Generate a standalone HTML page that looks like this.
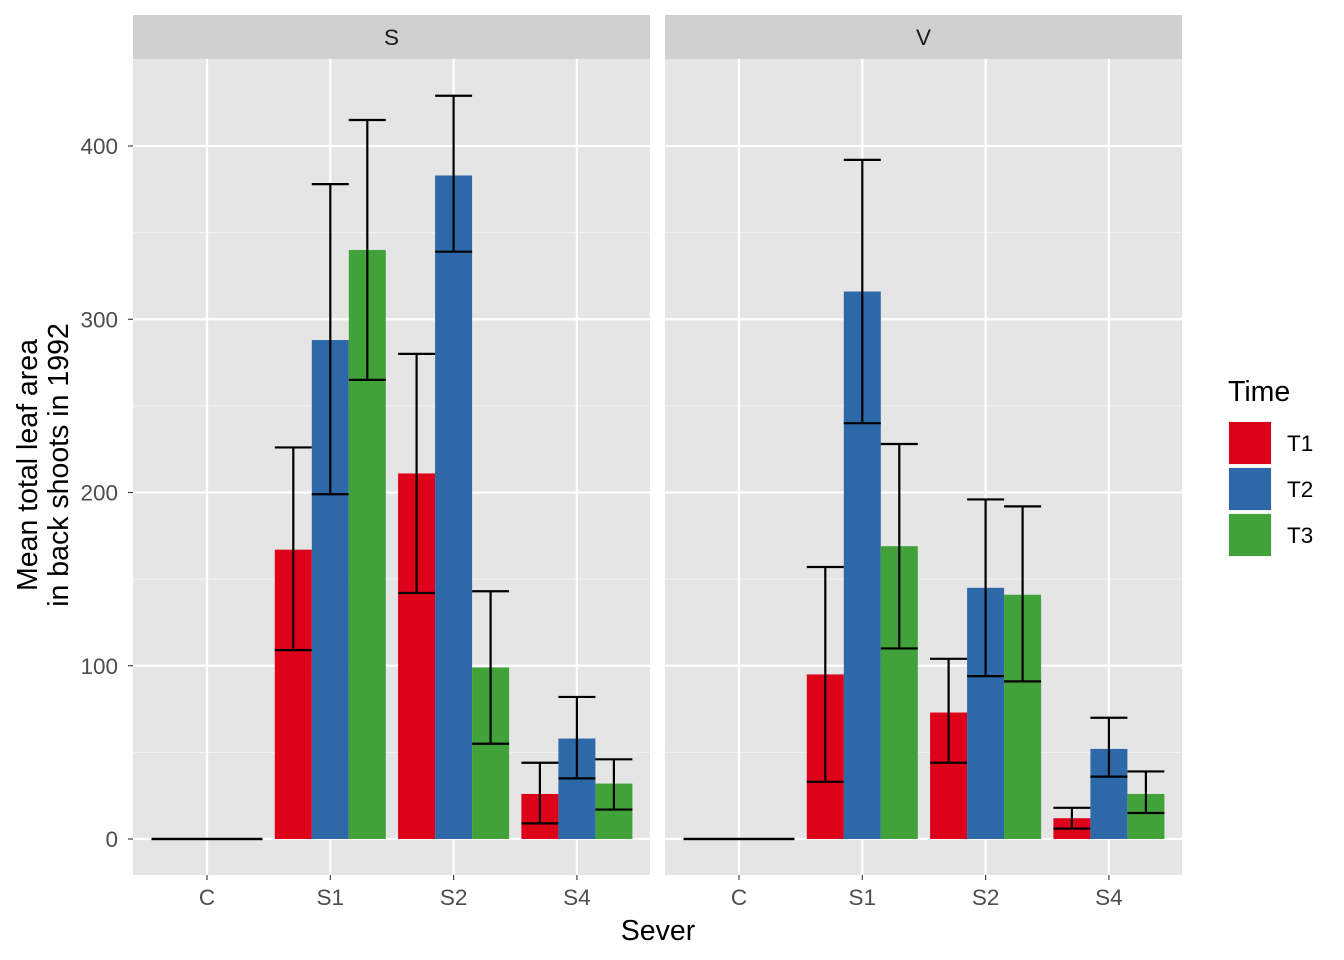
<!DOCTYPE html>
<html><head><meta charset="utf-8"><style>
body{margin:0;background:#fff}
svg{display:block;font-family:"Liberation Sans",Arial,sans-serif}
</style></head><body>
<svg id="c" width="1344" height="960"></svg>
<script>
const panels=["S","V"];
const categories=["C","S1","S2","S4"];
const series=["T1","T2","T3"];
const colors=["#de011a","#2d69a9","#41a23a"];
const meansS=[[0,0,0],[167,288,340],[211,383,99],[26,58,32]];
const meansV=[[0,0,0],[95,316,169],[73,145,141],[12,52,26]];
const lowS=[[0,0,0],[109,199,265],[142,339,55],[9,35,17]];
const highS=[[0,0,0],[226,378,415],[280,429,143],[44,82,46]];
const lowV=[[0,0,0],[33,240,110],[44,94,91],[6,36,15]];
const highV=[[0,0,0],[157,392,228],[104,196,192],[18,70,39]];
const yTicks=[0,100,200,300,400];
const yMinor=[50,150,250,350];

const NS="http://www.w3.org/2000/svg";
const svgEl=document.getElementById("c");
function mk(t,a,p){const e=document.createElementNS(NS,t);for(const k in a)e.setAttribute(k,a[k]);(p||svgEl).appendChild(e);return e;}
const panelX=[133,665],panelW=517,plotTop=59,plotBottom=875;
const yScale=v=>839-v*1.7325;
function xCat(p,i){return panelX[p]+74+i*123.3;}
const bw=37;
const allMeans=[meansS,meansV],allLow=[lowS,lowV],allHigh=[highS,highV];
panels.forEach((pn,p)=>{
  const x0=panelX[p];
  const g=mk("g",{});
  
  
  mk("rect",{x:x0,y:plotTop,width:panelW,height:plotBottom-plotTop,fill:"#e5e5e5"},g);
  const s=mk("rect",{x:x0,y:15,width:panelW,height:44,fill:"#d0d0d0"},g);
  
  
  const st=mk("text",{x:x0+panelW/2,y:45,"text-anchor":"middle","font-size":22.5,fill:"#1a1a1a"},g);st.textContent=pn;
  
  
  yMinor.forEach(v=>mk("line",{x1:x0,x2:x0+panelW,y1:yScale(v),y2:yScale(v),stroke:"#f2f2f2","stroke-width":1.1},g));
  yTicks.forEach(v=>mk("line",{x1:x0,x2:x0+panelW,y1:yScale(v),y2:yScale(v),stroke:"#fff","stroke-width":2.2},g));
  categories.forEach((c,i)=>{
    const cx=xCat(p,i);
    mk("line",{x1:cx,x2:cx,y1:plotTop,y2:plotBottom,stroke:"#fff","stroke-width":2.2},g);
    mk("line",{x1:cx,x2:cx,y1:plotBottom,y2:plotBottom+5,stroke:"#333","stroke-width":1.1},g);
    const t=mk("text",{x:cx,y:905,"text-anchor":"middle","font-size":22.5,fill:"#4d4d4d"},g);t.textContent=c;
    
    
  });
  categories.forEach((c,i)=>{
    const cx=xCat(p,i);
    series.forEach((sr,j)=>{
      const m=allMeans[p][i][j];
      const bx=cx-1.5*bw+j*bw;
      if(m>0){
        const r=mk("rect",{x:bx,y:yScale(m),width:bw,height:yScale(0)-yScale(m),fill:colors[j]},g);
        
        
      }
      const lo=allLow[p][i][j],hi=allHigh[p][i][j];
      const ex=bx+bw/2;
      const eg=mk("g",{stroke:"#000","stroke-width":2.2,fill:"none"},g);
      
      
      mk("line",{x1:ex,x2:ex,y1:yScale(lo),y2:yScale(hi)},eg);
      mk("line",{x1:bx,x2:bx+bw,y1:yScale(lo),y2:yScale(lo)},eg);
      mk("line",{x1:bx,x2:bx+bw,y1:yScale(hi),y2:yScale(hi)},eg);
    });
  });
});
yTicks.forEach(v=>{
  mk("line",{x1:128,x2:133,y1:yScale(v),y2:yScale(v),stroke:"#333","stroke-width":1.1});
  const t=mk("text",{x:118,y:yScale(v)+8,"text-anchor":"end","font-size":22.5,fill:"#4d4d4d"});t.textContent=v;
  
  
});
const xt=mk("text",{x:658,y:940,"text-anchor":"middle","font-size":28.5,fill:"#000"});xt.textContent="Sever";


const yt=mk("text",{transform:"translate(0,465) rotate(-90)","text-anchor":"middle","font-size":28.5,fill:"#000"});


const t1=mk("tspan",{x:0,y:37},yt);t1.textContent="Mean total leaf area";
const t2=mk("tspan",{x:0,y:68},yt);t2.textContent="in back shoots in 1992";
const lg=mk("g",{});


const lt=mk("text",{x:1228,y:401,"font-size":28.5,fill:"#000"},lg);lt.textContent="Time";
series.forEach((s,j)=>{
  const e=mk("g",{},lg);
  
  
  mk("rect",{x:1228,y:421+j*46,width:44,height:44,fill:"#f2f2f2"},e);
  mk("rect",{x:1229,y:422+j*46,width:42,height:42,fill:colors[j]},e);
  const t=mk("text",{x:1287,y:451+j*46,"font-size":22.5,fill:"#000"},e);t.textContent=s;
});
</script>
</body></html>
